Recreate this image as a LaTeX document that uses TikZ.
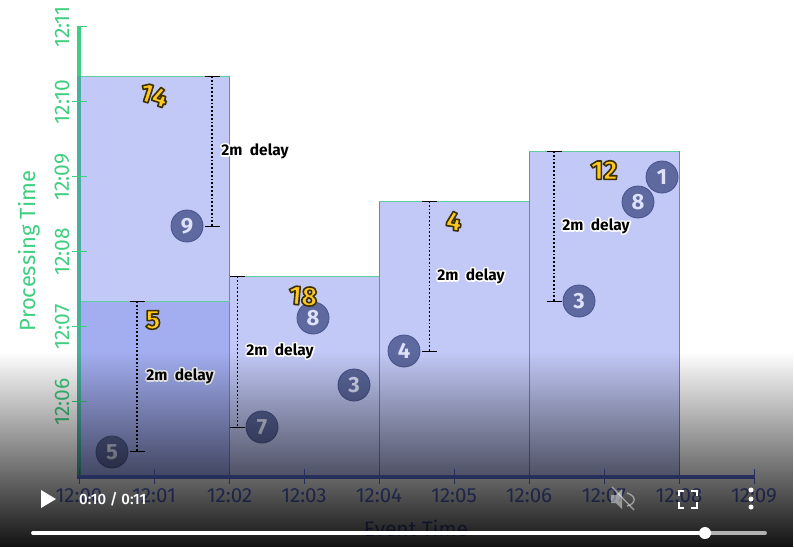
\documentclass[tikz,border=0pt]{standalone}
\usepackage{fontspec}
\setmainfont{Fira Sans}
\newfontfamily\goldfont{Fira Sans ExtraBold}
\newfontfamily\medfont{Fira Sans Medium}
\usetikzlibrary{fadings}
\definecolor{grn}{HTML}{3FCF80}
\definecolor{axblue}{HTML}{5F72E0}
\definecolor{barfill}{HTML}{C2C9F6}
\definecolor{bardark}{HTML}{A3AEF1}
\definecolor{baredge}{HTML}{6A7CF0}
\definecolor{circ}{HTML}{5D699F}
\definecolor{circe}{HTML}{46528C}
\definecolor{circt}{HTML}{DDE1FA}
\definecolor{goldy}{HTML}{FFC81E}
\tikzfading[name=vidfade, top color=transparent!100, bottom color=transparent!7]
% white halo behind black text; outlined gold numerals
\newcommand{\halo}[1]{\leavevmode\rlap{\textcolor{white}{\special{pdf:code q 1 1 1 RG 1 Tr 3.2 w 1 j}#1\special{pdf:code Q}}}\textcolor{black}{#1}}
\newcommand{\gold}[1]{\textcolor{goldy}{\special{pdf:code q 0.24 0.19 0 RG 2 Tr 1.6 w 1 j}#1\special{pdf:code Q}}}
\tikzset{
  px/.style={x=1pt,y=-1pt},
  ytick/.style={draw=grn,line width=0.8pt},
  xtick/.style={draw=axblue,line width=0.8pt},
  ylab/.style={text=grn,rotate=90,font=\fontsize{21}{24}\selectfont},
  xlab/.style={text=axblue,font=\fontsize{20.5}{24}\selectfont},
  bar/.style={fill=barfill,draw=none},
  edgeline/.style={draw=baredge,line width=1pt},
  topline/.style={draw=grn!75!barfill,line width=1pt},
  ball/.style={circle,minimum size=32pt,inner sep=0pt,fill=circ,draw=circe,line width=0.8pt,text=circt,font=\fontsize{22}{24}\selectfont\bfseries},
  delayline/.style={draw=black,line width=1.6pt,dash pattern=on 1.7pt off 2.1pt},
  delaycap/.style={draw=black,line width=0.9pt},
  delaylab/.style={font=\fontsize{15.5}{18}\selectfont\bfseries,inner sep=0pt},
  goldlab/.style={font=\fontsize{27}{30}\selectfont\goldfont,inner sep=0pt},
  ctrl/.style={text=white,font=\fontsize{15}{17}\selectfont\medfont},
}
\begin{document}
\begin{tikzpicture}[px]
\useasboundingbox (0,0) rectangle (794,547);
\fill[white] (0,0) rectangle (794,547);
% bars
\fill[bar] (79,76) rectangle (229.5,477);
\fill[bardark] (79,301) rectangle (229.5,477);
\fill[bar] (229.5,276) rectangle (379,477);
\fill[bar] (379,201) rectangle (529,477);
\fill[bar] (529,151) rectangle (679,477);
\foreach \x/\t in {229.5/76,379/201,529/151,679/151}{\draw[edgeline] (\x,\t) -- (\x,477);}
\draw[topline] (79,76) -- (229.5,76);
\draw[topline] (79,301) -- (229.5,301);
\draw[topline] (229.5,276) -- (379,276);
\draw[topline] (379,201) -- (529,201);
\draw[topline] (529,151) -- (679,151);
% axes
\draw[grn,line width=3.6pt] (79,26) -- (79,477);
\fill[axblue,opacity=.35] (77.2,76) rectangle (80.8,477);
\draw[axblue,line width=3.6pt] (77.2,477) -- (754,477);
\foreach \y/\l in {26/12:11,101/12:10,176/12:09,251/12:08,326/12:07,401/12:06}{
  \node[ylab] (yl\y) at (62,\y+1) {\l};
}
\draw[ytick] (79,26) -- (87,26);
\foreach \y in {101,176,251,326,401}{\draw[ytick] (72,\y) -- (87,\y);}
\foreach \x/\l in {79/12:00,154/12:01,229.5/12:02,304/12:03,379/12:04,454/12:05,529/12:06,604/12:07,679/12:08,754/12:09}{
  \draw[xtick] (\x,469) -- (\x,484);
  \node[xlab] (xl\x) at (\x,496) {\l};
}
\node[text=grn,rotate=90,font=\fontsize{22}{26}\selectfont] (ytitle) at (29,251) {Processing Time};
\node[text=axblue,font=\fontsize{21}{25}\selectfont] (xtitle) at (416,528) {Event Time};
% balls
\node[ball] (b9) at (187,226) {9};
\node[ball] (b5) at (112,452) {5};
\node[ball] (b7) at (262,427) {7};
\node[ball] (b8a) at (313,318) {8};
\node[ball] (b3a) at (354,385) {3};
\node[ball] (b4) at (404,351) {4};
\node[ball] (b3b) at (579,301) {3};
\node[ball] (b8b) at (638,202) {8};
\node[ball] (b1) at (662,177) {1};
% delays
\foreach \n/\x/\a/\b/\lx/\ly in {A/212/76/226/255/151,B/137/301/451/180/376,C/237.5/276/427/280/351,D/429.5/201/351/471/276,E/554/151/301/596/226}{
  \coordinate (t\n) at (\x,\a);
  \coordinate (u\n) at (\x,\b);
  \draw[delayline] (t\n) -- (u\n);
  \draw[delaycap] ([xshift=-7.5pt]t\n) -- ([xshift=7.5pt]t\n);
  \draw[delaycap] ([xshift=-7.5pt]u\n) -- ([xshift=7.5pt]u\n);
  \node[delaylab] (l\n) at (\lx,\ly) {\halo{2m\ \ delay}};
}
% gold
\node[goldlab,rotate=-18] (g14) at (154,95) {\gold{14}};
\node[goldlab] (g5) at (153,320) {\gold{5}};
\node[goldlab,rotate=-5] (g18) at (303,296) {\gold{18}};
\node[goldlab,rotate=-8] (g4) at (454,221) {\gold{4}};
\node[goldlab] (g12) at (604,170) {\gold{12}};
% video gradient
\fill[black,path fading=vidfade,fit fading=true] (0,352) rectangle (794,547);
% controls
\fill[white] (41,490) -- (56,499) -- (41,508) -- cycle;
\node[ctrl,anchor=west,inner sep=0pt] (time) at (79,499) {0:10 / 0:11};
\begin{scope}[draw=white,opacity=.45,line width=1.4pt]
  \fill[white,opacity=.45] (611,495) -- (616,495) -- (622,489) -- (622,509) -- (616,503) -- (611,503) -- cycle;
  \draw (627,493) .. controls (637,496) and (636,504) .. (627,506);
  \draw (612,487) -- (634,510);
\end{scope}
\draw[white,line width=2pt] (678.5,496) -- (678.5,490.5) -- (684,490.5) (691,490.5) -- (696.5,490.5) -- (696.5,496) (696.5,502) -- (696.5,507.5) -- (691,507.5) (684,507.5) -- (678.5,507.5) -- (678.5,502);
\foreach \y in {490,499,507}{\fill[white] (751,\y) circle (2.5);}
\draw[white!70!black,line width=3.8pt,line cap=round] (705,533) -- (765,533);
\draw[white,line width=3.8pt,line cap=round] (33,533) -- (705,533);
\fill[white] (705,533) circle (6);
\end{tikzpicture}
\end{document}
